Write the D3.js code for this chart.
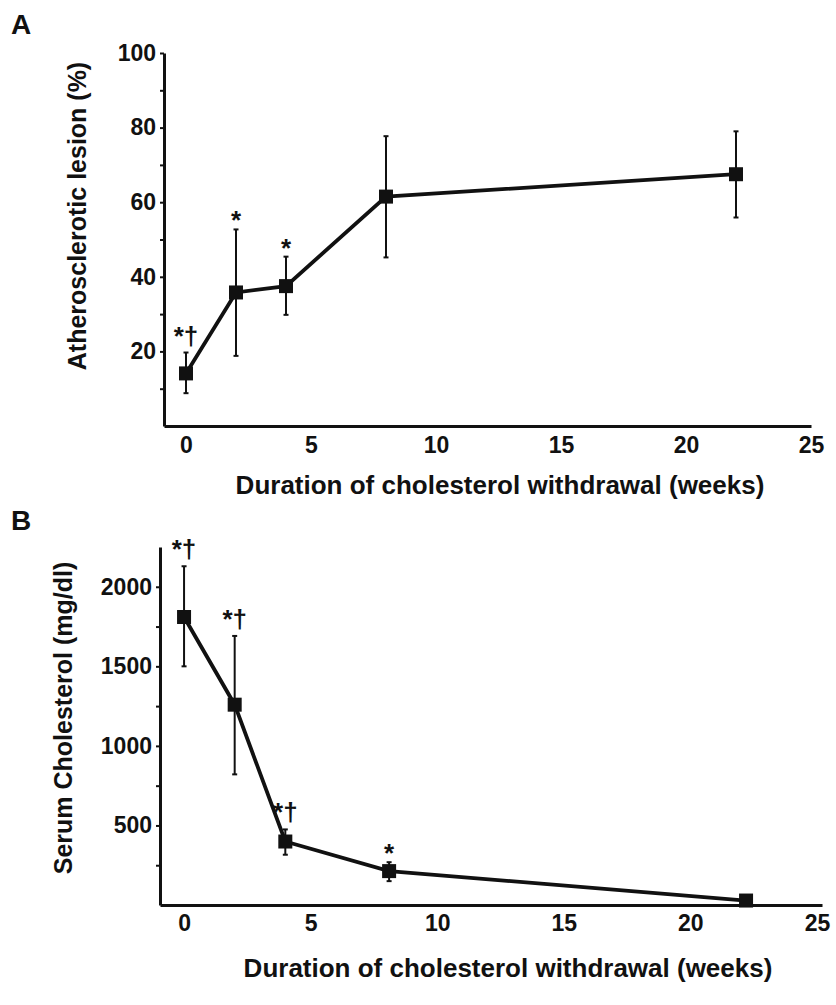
<!DOCTYPE html>
<html>
<head>
<meta charset="utf-8">
<script src="https://cdn.jsdelivr.net/npm/d3@7"></script>
<style>
  body { margin: 0; background: #fff; }
  text { font-family: "Liberation Sans", Arial, sans-serif; font-weight: bold; fill: #111; }
</style>
</head>
<body>
<svg id="svg" width="836" height="1005"></svg>
<script>
// panel A: atherosclerotic lesion (%)
var weeksA = [0, 2, 4, 8, 22];
var lesion = [14.1, 35.8, 37.5, 61.5, 67.5];
var lesionHi = [19.7, 52.7, 45.4, 77.7, 79.0];
var lesionLo = [8.8, 18.8, 29.8, 45.2, 55.9];
var marksA = ["*†", "*", "*", "", ""];

// panel B: serum cholesterol (mg/dl)
var weeksB = [0, 2, 4, 8.1, 22.2];
var chol = [1810, 1259, 399, 213, 28];
var cholHi = [2129, 1691, 475, 269, 28];
var cholLo = [1500, 821, 316, 150, 28];
var marksB = ["*†", "*†", "*†", "*", ""];

var xTicks = [0, 5, 10, 15, 20, 25];
var yTicksA = [10, 20, 30, 40, 50, 60, 70, 80, 90, 100];
var yTicksB = [250, 500, 750, 1000, 1250, 1500, 1750, 2000];

var svg = d3.select("#svg");

function drawPanel(p) {
    var g = svg.append("g");

    var pts = p.x.map(function (d, i) {
        return { x: d, y: p.y[i], hi: p.hi[i], lo: p.lo[i], mark: p.marks[i] };
    });

    // axes
    var xAxis = d3.axisBottom(p.xScale).tickValues(xTicks).tickSize(0).tickPadding(p.xPad).tickSizeOuter(0);
    var gx = g.append("g")
        .attr("transform", "translate(0," + p.yScale.range()[0] + ")")
        .call(xAxis);

    var yAxis = d3.axisLeft(p.yScale).tickValues(p.yTicks).tickSize(4).tickPadding(4).tickSizeOuter(0)
        .tickFormat(function (d) { return p.labels.indexOf(d) >= 0 ? d : ""; });
    var gy = g.append("g")
        .attr("transform", "translate(" + p.xScale.range()[0] + ",0)")
        .call(yAxis);

    [gx, gy].forEach(function (a) {
        a.select(".domain").attr("stroke", "#111").attr("stroke-width", 3);
        a.selectAll(".tick line").attr("stroke", "#111").attr("stroke-width", 2);
        a.selectAll(".tick text").attr("font-size", 23).attr("fill", "#111")
            .style("font-family", "'Liberation Sans', Arial, sans-serif").style("font-weight", "bold");
    });

    // error bars
    var eb = g.selectAll(".err").data(pts.filter(function (d) { return d.hi > d.lo; })).enter().append("g");
    eb.append("line")
        .attr("x1", function (d) { return p.xScale(d.x); })
        .attr("x2", function (d) { return p.xScale(d.x); })
        .attr("y1", function (d) { return p.yScale(d.hi); })
        .attr("y2", function (d) { return p.yScale(d.lo); })
        .attr("stroke", "#111").attr("stroke-width", 2);
    eb.selectAll(".cap").data(function (d) { return [{ x: d.x, v: d.hi }, { x: d.x, v: d.lo }]; })
        .enter().append("line")
        .attr("x1", function (d) { return p.xScale(d.x) - 2.5; })
        .attr("x2", function (d) { return p.xScale(d.x) + 2.5; })
        .attr("y1", function (d) { return p.yScale(d.v); })
        .attr("y2", function (d) { return p.yScale(d.v); })
        .attr("stroke", "#111").attr("stroke-width", 2);

    // line
    var line = d3.line()
        .x(function (d) { return p.xScale(d.x); })
        .y(function (d) { return p.yScale(d.y); });
    g.append("path")
        .datum(pts)
        .attr("d", line)
        .attr("fill", "none")
        .attr("stroke", "#111")
        .attr("stroke-width", 3.8);

    // markers
    g.selectAll(".mk").data(pts).enter().append("rect")
        .attr("x", function (d) { return p.xScale(d.x) - 7; })
        .attr("y", function (d) { return p.yScale(d.y) - 7; })
        .attr("width", 14)
        .attr("height", 14)
        .attr("fill", "#111");

    // significance marks
    g.selectAll(".sig").data(pts).enter().append("text")
        .attr("x", function (d) { return p.xScale(d.x); })
        .attr("y", function (d) { return p.yScale(d.hi) - (d.mark.length > 1 ? 8 : 0); })
        .attr("text-anchor", "middle")
        .attr("font-size", 26)
        .text(function (d) { return d.mark; });

    // titles
    g.append("text")
        .attr("x", p.xTitle[0]).attr("y", p.xTitle[1])
        .attr("text-anchor", "middle")
        .attr("font-size", 26)
        .text("Duration of cholesterol withdrawal (weeks)");

    g.append("text")
        .attr("transform", "translate(" + p.yTitle[0] + "," + p.yTitle[1] + ") rotate(-90)")
        .attr("text-anchor", "middle")
        .attr("font-size", 25)
        .text(p.yLabel);

    g.append("text")
        .attr("x", p.letter[0]).attr("y", p.letter[1])
        .attr("font-size", 28)
        .text(p.name);
}

drawPanel({
    name: "A",
    x: weeksA, y: lesion, hi: lesionHi, lo: lesionLo, marks: marksA,
    xScale: d3.scaleLinear().domain([-0.88, 25]).range([164, 811]),
    yScale: d3.scaleLinear().domain([0, 100]).range([426, 53]),
    yTicks: yTicksA, labels: [20, 40, 60, 80, 100],
    xPad: 11,
    yLabel: "Atherosclerotic lesion (%)",
    xTitle: [500, 494], yTitle: [86, 216], letter: [11, 34]
});

drawPanel({
    name: "B",
    x: weeksB, y: chol, hi: cholHi, lo: cholLo, marks: marksB,
    xScale: d3.scaleLinear().domain([-0.95, 25.2]).range([160, 822]),
    yScale: d3.scaleLinear().domain([0, 2250]).range([905, 547]),
    yTicks: yTicksB, labels: [500, 1000, 1500, 2000],
    xPad: 10,
    yLabel: "Serum Cholesterol (mg/dl)",
    xTitle: [508, 977], yTitle: [72, 718], letter: [11, 530]
});
</script>
</body>
</html>
